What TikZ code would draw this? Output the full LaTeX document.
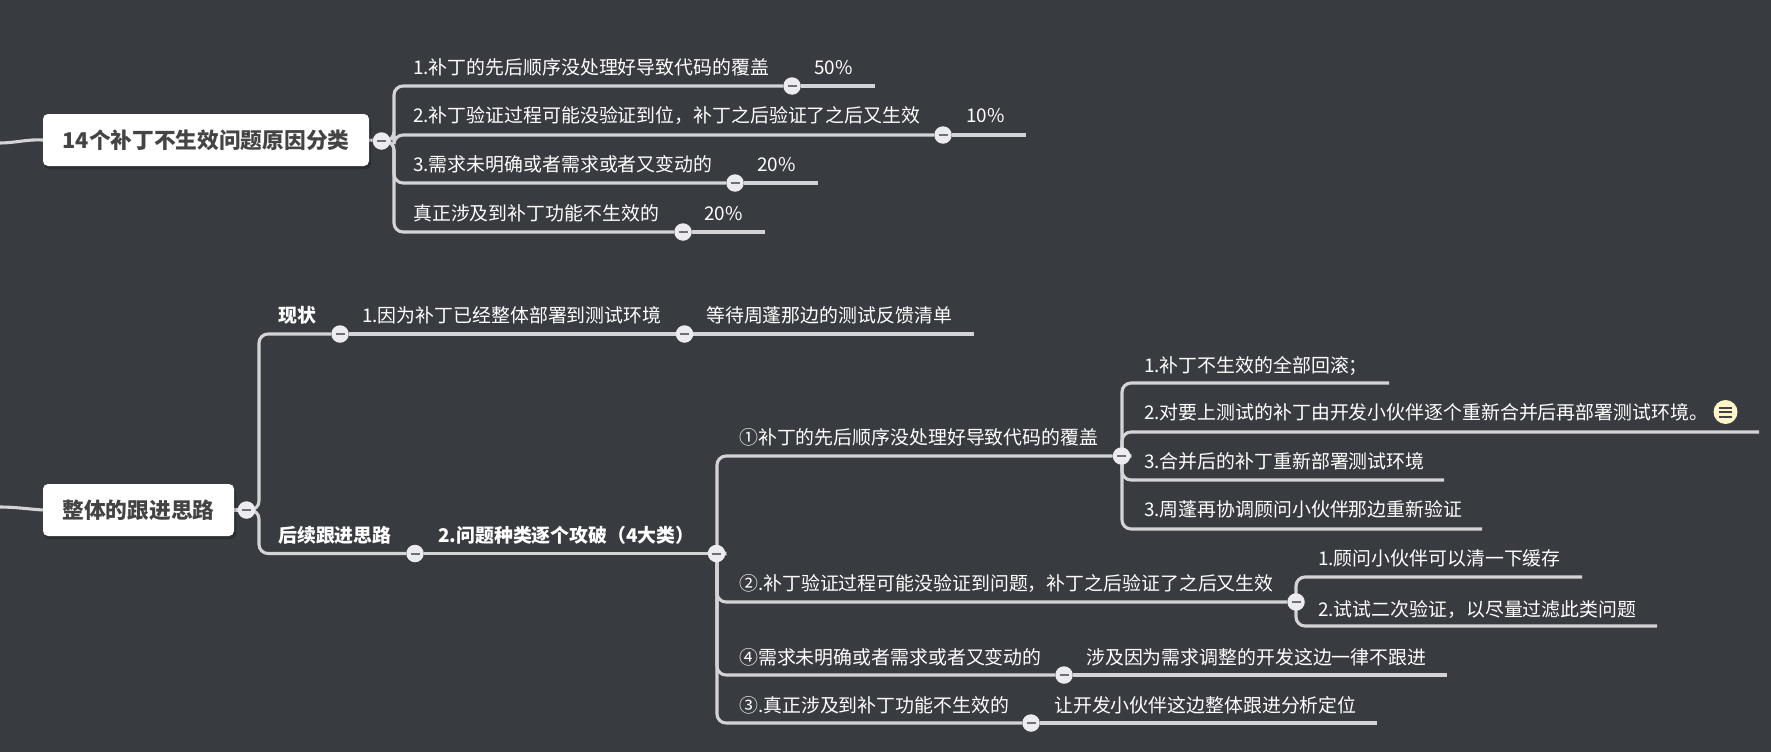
\documentclass[tikz,border=0pt]{standalone}
\usepackage{fontspec}
\setmainfont{Noto Sans CJK SC}
\usetikzlibrary{calc}
\definecolor{pagebg}{HTML}{383B3F}
\definecolor{wire}{HTML}{D4D4D6}
\definecolor{btnfill}{HTML}{ECECF0}
\definecolor{btnbar}{HTML}{6E7075}
\definecolor{boxtext}{HTML}{444444}
\definecolor{cream}{HTML}{FFF5C6}
\pgfdeclarelayer{page}
\pgfdeclarelayer{lines}
\pgfsetlayers{page,lines,main}
\tikzset{
  conn/.style={draw=wire,line width=3.1pt,rounded corners=9pt},
  btn/.style={circle,fill=btnfill,draw=none,minimum size=17.5pt,inner sep=0pt,
    path picture={\draw[btnbar,line width=2pt]
      ($(path picture bounding box.center)+(-4.5pt,0)$) -- ($(path picture bounding box.center)+(4.5pt,0)$);}},
  rootbox/.style={rectangle,rounded corners=5pt,fill=white,text=boxtext,inner sep=0pt,
    font=\fontsize{21.7}{26}\selectfont\bfseries,anchor=center},
  lbl/.style={anchor=west,inner sep=0pt,text=white,text height=16.5pt,text depth=1pt,
    font=\fontsize{18.9}{23}\selectfont},
  blbl/.style={lbl,font=\fontsize{18.9}{23}\selectfont\bfseries},
  noteicon/.style={circle,fill=cream,minimum size=24pt,inner sep=0pt,
    path picture={\draw[btnbar!60!black,line width=2pt]
      ($(path picture bounding box.center)+(-6.5pt,-4.5pt)$) -- +(13pt,0)
      ($(path picture bounding box.center)+(-6.5pt,0pt)$) -- +(13pt,0)
      ($(path picture bounding box.center)+(-6.5pt,4.5pt)$) -- +(13pt,0);}}
}
\begin{document}
\begin{tikzpicture}[x=1pt,y=-1pt]
\begin{pgfonlayer}{page}
\fill[pagebg] (0,0) rectangle (1771,752);
\end{pgfonlayer}
\useasboundingbox (0,0) rectangle (1771,752);

% --- first topic
\fill[black,opacity=.22,rounded corners=5pt] (44,117) rectangle (371,169);
\node[rootbox,minimum width=326pt,minimum height=52pt] (boxA) at (206,140) {14个补丁不生效问题原因分类};
\coordinate (inA) at (0,143);
\node[btn] (btnA) at (381.5,141) {};
\coordinate (hubA) at (394,141);

\node[btn] (a1) at (792,86) {};
\node[btn] (a2) at (943,135) {};
\node[btn] (a3) at (735,183) {};
\node[btn] (a4) at (683,232) {};
\coordinate (a1e) at (875,86);
\coordinate (a2e) at (1026,135);
\coordinate (a3e) at (818,183);
\coordinate (a4e) at (765,232);

\node[lbl] (ta1) at (413,67) {1.补丁的先后顺序没处理好导致代码的覆盖};
\node[lbl] (ta2) at (413,115) {2.补丁验证过程可能没验证到位，补丁之后验证了之后又生效};
\node[lbl] (ta3) at (413,164) {3.需求未明确或者需求或者又变动的};
\node[lbl] (ta4) at (413,213) {真正涉及到补丁功能不生效的};
\node[lbl] (pa1) at (814,67) {50\%};
\node[lbl] (pa2) at (966,115) {10\%};
\node[lbl] (pa3) at (757,164) {20\%};
\node[lbl] (pa4) at (704,213) {20\%};

% --- second topic
\fill[black,opacity=.22,rounded corners=5pt] (44,487) rectangle (236,539);
\node[rootbox,minimum width=191pt,minimum height=52pt] (boxB) at (138.5,510) {整体的跟进思路};
\coordinate (inB) at (0,507);
\node[btn] (btnB) at (246.5,510) {};
\coordinate (hubB) at (259,510);

\node[btn] (now) at (340,334) {};
\node[btn] (now2) at (684.5,334) {};
\coordinate (nowe) at (974,334);
\node[btn] (next) at (415,553.5) {};
\node[btn] (kinds) at (716.5,553.5) {};
\coordinate (hubK) at (717,553.5);

\node[blbl] (tnow) at (278,315) {现状};
\node[lbl] (tnow2) at (362,315) {1.因为补丁已经整体部署到测试环境};
\node[lbl] (tnow3) at (706,315) {等待周蓬那边的测试反馈清单};
\node[blbl] (tnext) at (278,535) {后续跟进思路};
\node[blbl] (tkinds) at (438,535) {2.问题种类逐个攻破（4大类）};

\node[btn] (k1) at (1121.5,456) {};
\coordinate (hubK1) at (1122,456);
\node[btn] (k2) at (1296,602) {};
\coordinate (hubK2) at (1296,602);
\node[btn] (k3) at (1064,675) {};
\node[btn] (k4) at (1031,723) {};
\coordinate (k3e) at (1447,675);
\coordinate (k4e) at (1377,723);

\node[lbl] (tk1) at (739,437) {①补丁的先后顺序没处理好导致代码的覆盖};
\node[lbl] (tk2) at (739,583) {②.补丁验证过程可能没验证到问题，补丁之后验证了之后又生效};
\node[lbl] (tk3) at (739,657) {④需求未明确或者需求或者又变动的};
\node[lbl] (tk4) at (739,705) {③.真正涉及到补丁功能不生效的};
\node[lbl] (tk3b) at (1086,657) {涉及因为需求调整的开发这边一律不跟进};
\node[lbl] (tk4b) at (1054,705) {让开发小伙伴这边整体跟进分析定位};

\coordinate (m1e) at (1389,383);
\coordinate (m2e) at (1759,432);
\coordinate (m3e) at (1444,480);
\coordinate (m4e) at (1482,529);
\node[lbl] (tm1) at (1144,365) {1.补丁不生效的全部回滚；};
\node[lbl] (tm2) at (1144,412) {2.对要上测试的补丁由开发小伙伴逐个重新合并后再部署测试环境。};
\node[lbl] (tm3) at (1144,461) {3.合并后的补丁重新部署测试环境};
\node[lbl] (tm4) at (1144,509) {3.周蓬再协调顾问小伙伴那边重新验证};
\node[noteicon] (note) at (1725.5,412) {};

\coordinate (n1e) at (1582,577);
\coordinate (n2e) at (1657,626);
\node[lbl] (tn1) at (1318,558) {1.顾问小伙伴可以清一下缓存};
\node[lbl] (tn2) at (1318,609) {2.试试二次验证，以尽量过滤此类问题};

% --- connectors
\begin{pgfonlayer}{lines}
\draw[wire,line width=3.1pt] (inA) .. controls (15,143) and (28,139) .. (boxA.west);
\draw[conn] (boxA.east) -- (btnA);
\draw[conn] (btnA) -- (hubA) |- (a1);
\draw[conn] (btnA) -- (hubA) |- (a2);
\draw[conn] (btnA) -- (hubA) |- (a3);
\draw[conn] (btnA) -- (hubA) |- (a4);
\draw[conn] (a1) -- (a1e);
\draw[conn] (a2) -- (a2e);
\draw[conn] (a3) -- (a3e);
\draw[conn] (a4) -- (a4e);

\draw[wire,line width=3.1pt] (inB) .. controls (15,507) and (28,509) .. (boxB.west);
\draw[conn] (boxB.east) -- (btnB);
\draw[conn] (btnB) -- (hubB) |- (now);
\draw[conn] (btnB) -- (hubB) |- (next);
\draw[conn] (now) -- (now2);
\draw[conn] (now2) -- (nowe);
\draw[conn] (next) -- (kinds);

\draw[conn] (kinds) -- (hubK) |- (k1);
\draw[conn] (kinds) -- (hubK) |- (k2);
\draw[conn] (kinds) -- (hubK) |- (k3);
\draw[conn] (kinds) -- (hubK) |- (k4);
\draw[conn] (k3) -- (k3e);
\draw[conn] (k4) -- (k4e);

\draw[conn] (k1) -- (hubK1) |- (m1e);
\draw[conn] (k1) -- (hubK1) |- (m2e);
\draw[conn] (k1) -- (hubK1) |- (m3e);
\draw[conn] (k1) -- (hubK1) |- (m4e);

\draw[conn] (k2) -- (hubK2) |- (n1e);
\draw[conn] (k2) -- (hubK2) |- (n2e);
\end{pgfonlayer}
\end{tikzpicture}
\end{document}
